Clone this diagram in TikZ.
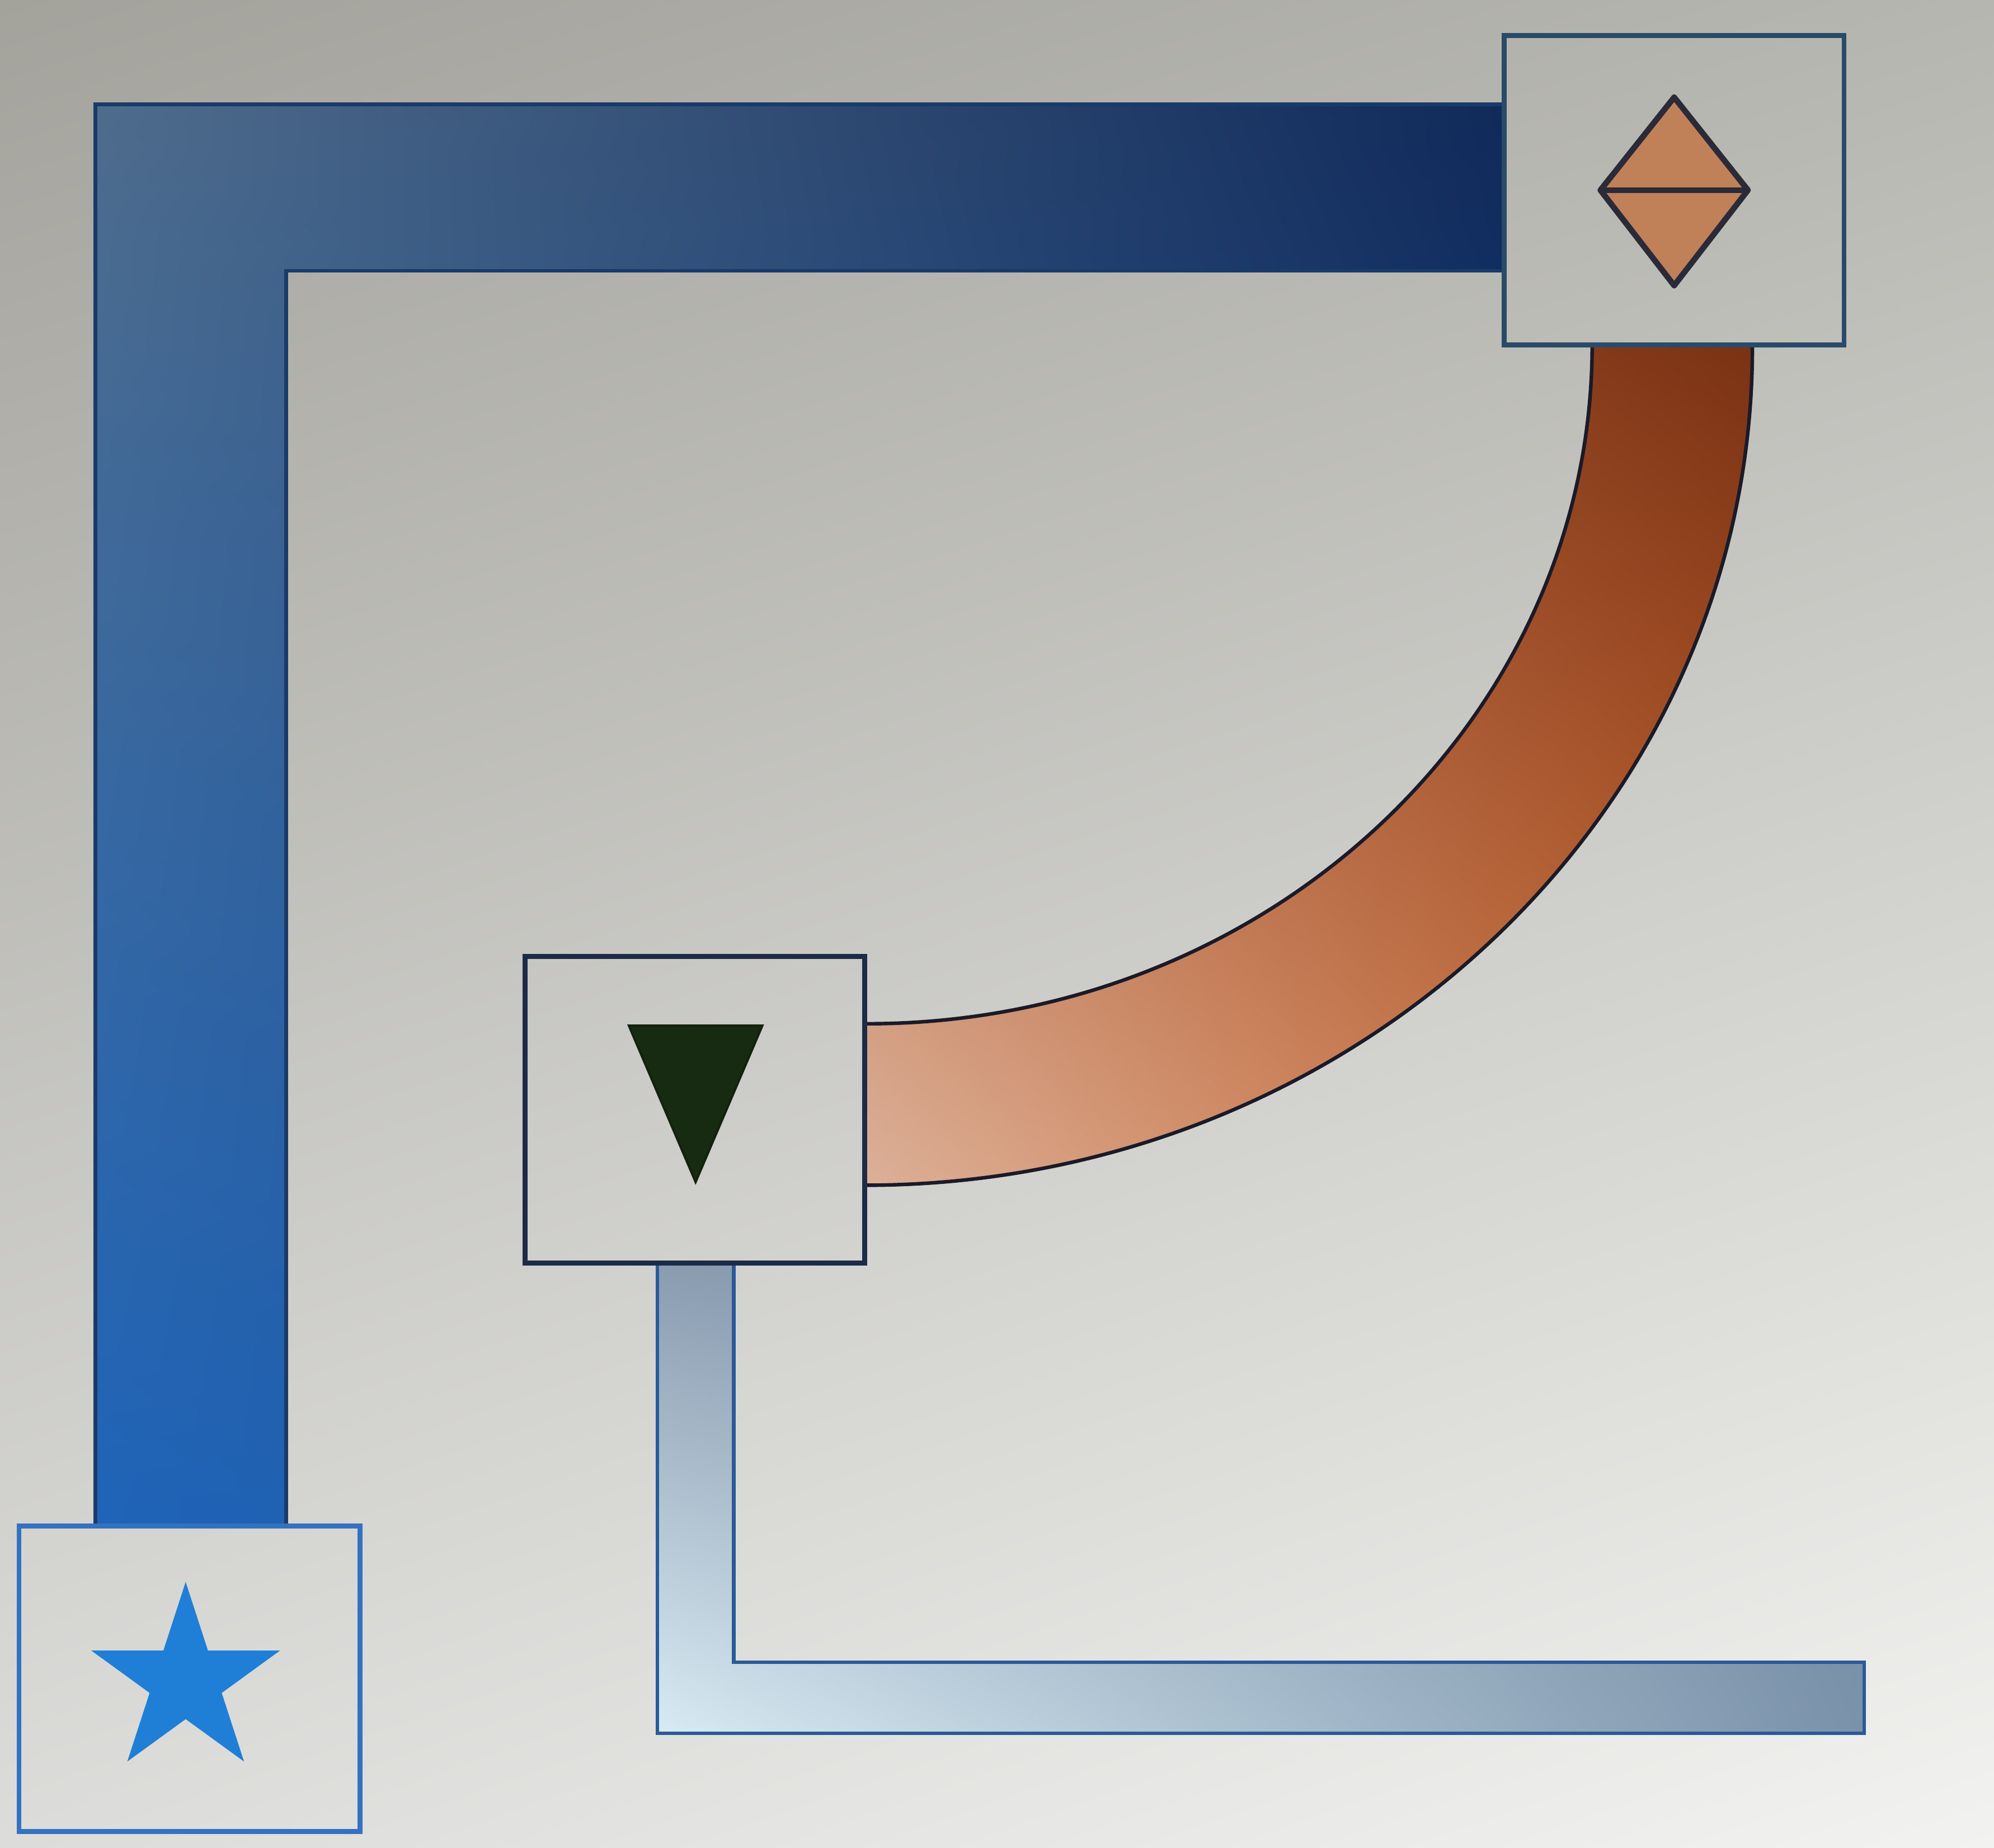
\documentclass[tikz,border=0pt]{standalone}
\usetikzlibrary{shapes.geometric,calc,shadings}
\definecolor{bgul}{HTML}{A3A29B}
\definecolor{bgur}{HTML}{B6B6B1}
\definecolor{bgll}{HTML}{DCDCDA}
\definecolor{bglr}{HTML}{F2F2F0}
\definecolor{sboxc}{HTML}{3272C0}
\definecolor{tboxc}{HTML}{1C2C48}
\definecolor{dboxc}{HTML}{2A4A6A}
\definecolor{starc}{HTML}{1F7FD6}
\definecolor{trianc}{HTML}{172A12}
\definecolor{diamc}{HTML}{C08058}
\definecolor{diamedge}{HTML}{2A2A38}
\definecolor{bpul}{HTML}{4E6C8C}
\definecolor{bpur}{HTML}{102A5A}
\definecolor{bpll}{HTML}{1F64B8}
\definecolor{bplr}{HTML}{1A4A90}
\definecolor{bpedge}{HTML}{1A3A6A}
\definecolor{opul}{HTML}{B05A30}
\definecolor{opur}{HTML}{7A3214}
\definecolor{opll}{HTML}{DCB098}
\definecolor{oplr}{HTML}{C8642C}
\definecolor{opedge}{HTML}{1A1A28}
\definecolor{lpul}{HTML}{8A9CB0}
\definecolor{lpur}{HTML}{7088A0}
\definecolor{lpll}{HTML}{D8EAF2}
\definecolor{lplr}{HTML}{7A92AA}
\definecolor{lpedge}{HTML}{2A5A98}
\pgfdeclarelayer{bg}
\pgfdeclarelayer{pipes}
\pgfsetlayers{bg,pipes,main}
\begin{document}
\begin{tikzpicture}[x=0.01cm,y=-0.01cm,
  boxnode/.style={draw,rectangle,minimum width=2.67cm,minimum height=2.41cm,inner sep=0pt,line width=1.1pt},
  pipeedge/.style={line width=0.8pt}]
\useasboundingbox (0,0) rectangle (1568,1453);
\begin{pgfonlayer}{bg}
\shade[upper left=bgul,upper right=bgur,lower left=bgll,lower right=bglr] (0,0) rectangle (1568,1453);
\end{pgfonlayer}

% boxes
\node[boxnode,draw=sboxc,minimum width=2.68cm,minimum height=2.40cm] (sbox) at (149,1320) {};
\node[boxnode,draw=tboxc] (tbox) at (546.5,872.5) {};
\node[boxnode,draw=dboxc,minimum height=2.43cm] (dbox) at (1316.5,149.5) {};

% symbols
\node[star,star points=5,star point ratio=2.618,minimum size=1.56cm,inner sep=0pt,fill=starc,draw=none] (st) at ($(sbox)+(-3,2)$) {};
\fill[trianc,draw=trianc!80!black,line width=0.5pt] ($(tbox)+(-52,-66)$) -- ($(tbox)+(53,-66)$) -- ($(tbox)+(0.5,57)$) -- cycle;
\filldraw[fill=diamc,draw=diamedge,line width=1.3pt,line join=round] ($(dbox)+(0,-73)$) -- ($(dbox)+(58,0)$) -- ($(dbox)+(0,75)$) -- ($(dbox)+(-58,0)$) -- cycle;
\draw[diamedge,line width=1.3pt] ($(dbox)+(-58,0)$) -- ($(dbox)+(58,0)$);

\begin{pgfonlayer}{pipes}
% blue pipe
\coordinate (bo) at (75,82);
\coordinate (bi) at (225,213);
\shade[upper left=bpul,upper right=bpur,lower left=bpll,lower right=bplr]
  (sbox.north -| bo) -- (bo) -- (dbox.west |- bo) -- (dbox.west |- bi) -- (bi) -- (sbox.north -| bi) -- cycle;
\draw[pipeedge,bpedge,line join=miter]
  (sbox.north -| bo) -- (bo) -- (dbox.west |- bo)
  (dbox.west |- bi) -- (bi) -- (sbox.north -| bi);
% orange pipe
\coordinate (oo) at (1378,930);
\coordinate (oi) at (1250,805);
\shade[upper left=opul,upper right=opur,lower left=opll,lower right=oplr]
  (dbox.south -| oo) arc[start angle=0,end angle=90,x radius=698,y radius=659]
  -- (tbox.east |- oi) arc[start angle=90,end angle=0,x radius=570,y radius=534] -- cycle;
\draw[pipeedge,opedge]
  (dbox.south -| oo) arc[start angle=0,end angle=90,x radius=698,y radius=659]
  (tbox.east |- oi) arc[start angle=90,end angle=0,x radius=570,y radius=534];
% light pipe
\coordinate (lo) at (517,1363);
\coordinate (li) at (577,1307);
\coordinate (le) at (1466,1335);
\shade[upper left=lpul,upper right=lpur,lower left=lpll,lower right=lplr]
  (tbox.south -| lo) -- (lo) -- (le |- lo) -- (le |- li) -- (li) -- (tbox.south -| li) -- cycle;
\draw[pipeedge,lpedge,line join=miter]
  (tbox.south -| lo) -- (lo) -- (le |- lo) -- (le |- li) -- (li) -- (tbox.south -| li);
\end{pgfonlayer}
\end{tikzpicture}
\end{document}
